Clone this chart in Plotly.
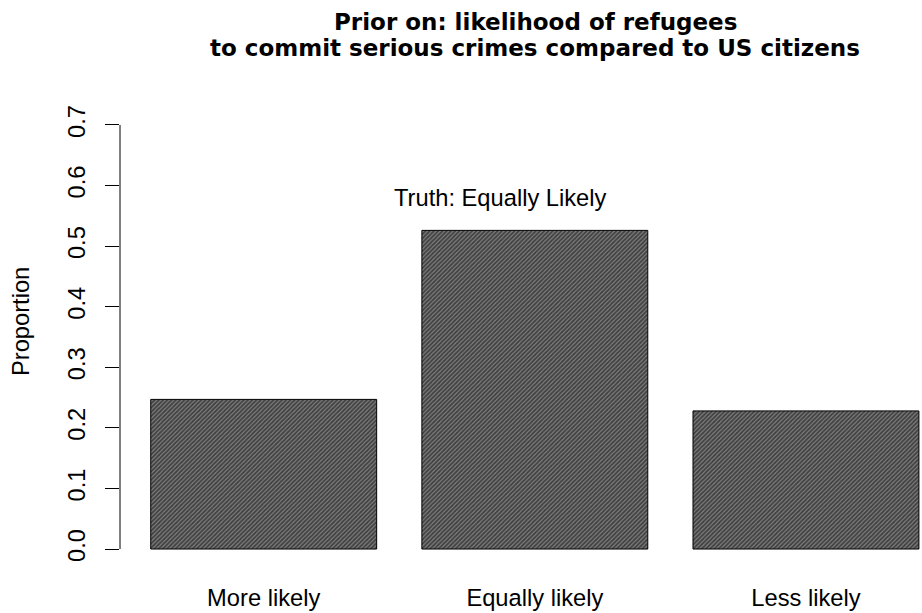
import plotly.graph_objects as go

categories = ["More likely", "Equally likely", "Less likely"]
proportions = [0.247, 0.526, 0.228]
y_ticks = [0.0, 0.1, 0.2, 0.3, 0.4, 0.5, 0.6, 0.7]
y_tick_labels = ["0.0", "0.1", "0.2", "0.3", "0.4", "0.5", "0.6", "0.7"]
title_lines = ["Prior on: likelihood of refugees", "to commit serious crimes compared to US citizens"]
annotation_text = "Truth: Equally Likely"
annotation_y = 0.58
y_title = "Proportion"

FONT = "Liberation Sans, Arial, Helvetica, sans-serif"
TITLE_FONT = "DejaVu Sans, Liberation Sans, Arial, sans-serif"
FS = 23.7
W, H = 922, 613
ML, MR, MT, MB = 120, 0, 108, 47
PW, PH = W - ML - MR, H - MT - MB


def px_to_paper(px, py):
    return (px - ML) / PW, (H - MB - py) / PH


fig = go.Figure()
fig.add_trace(go.Bar(
    x=categories,
    y=proportions,
    marker=dict(
        color="white",
        line=dict(color="black", width=1),
        pattern=dict(shape="/", fgcolor="black", bgcolor="#808080", size=3, solidity=0.6, fillmode="overlay"),
    ),
    showlegend=False,
))

fig.add_annotation(
    x=0.875, y=annotation_y, xref="x", yref="y",
    text=annotation_text, showarrow=False,
    font=dict(family=FONT, size=FS, color="black"),
)

# title lines
for i, line in enumerate(title_lines):
    tx, ty = px_to_paper(535, 22 + 26 * i)
    fig.add_annotation(
        x=tx, y=ty, xref="paper", yref="paper",
        text="<b>" + line + "</b>", showarrow=False,
        xanchor="center", yanchor="middle",
        font=dict(family=TITLE_FONT, size=23, color="black"),
    )

ax_, ay_ = px_to_paper(21, 322)
fig.add_annotation(
    x=ax_, y=ay_, xref="paper", yref="paper",
    text=y_title, showarrow=False, textangle=-90,
    xanchor="center", yanchor="middle",
    font=dict(family=FONT, size=FS, color="black"),
)

# y axis line spanning only the tick range (R style)
fig.add_shape(type="line", xref="paper", yref="y", x0=0, x1=0, y0=y_ticks[0], y1=y_ticks[-1],
              line=dict(color="black", width=1))

fig.update_layout(
    width=W, height=H,
    paper_bgcolor="white", plot_bgcolor="white",
    margin=dict(l=ML, r=MR, t=MT, b=MB, autoexpand=False),
    bargap=0.1667,
    font=dict(family=FONT, size=FS, color="black"),
    xaxis=dict(range=[-0.530, 2.428], showline=False, showgrid=False, zeroline=False,
               automargin=False, ticks="", tickfont=dict(size=FS), ticklabelstandoff=15),
    yaxis=dict(range=[-0.028, 0.728], showline=False, showgrid=False, zeroline=False,
               automargin=False,
               tickvals=y_ticks, ticktext=y_tick_labels, ticks="outside", ticklen=14,
               tickcolor="black", tickwidth=1, tickangle=-90, tickfont=dict(size=FS),
               ticklabelstandoff=11),
)

fig.write_html("out.html", config={"displayModeBar": False},
               post_script="document.body.style.margin='0';document.body.style.overflow='hidden';")
